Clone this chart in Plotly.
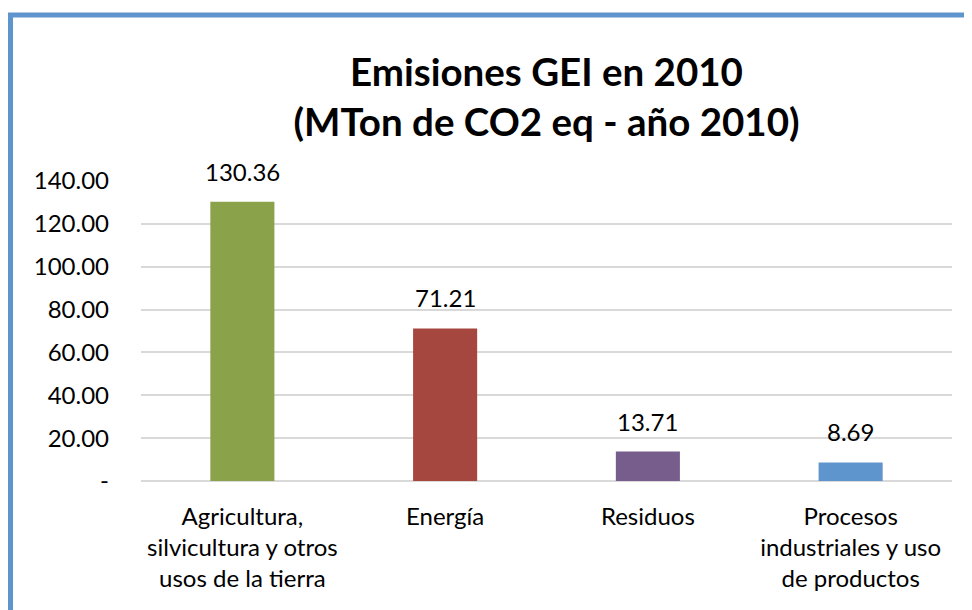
import plotly.graph_objects as go

categories = ["Agricultura,<br>silvicultura y otros<br>usos de la tierra",
              "Energía", "Residuos",
              "Procesos<br>industriales y uso<br>de productos"]
values = [130.36, 71.21, 13.71, 8.69]
colors = ["#8AA24A", "#A5463F", "#775D8C", "#5E95CC"]
tick_vals = [0, 20, 40, 60, 80, 100, 120, 140]
tick_text = ["-", "20.00", "40.00", "60.00", "80.00", "100.00", "120.00", "140.00"]
title_text = "Emisiones GEI en 2010<br>(MTon de CO2 eq - año 2010)"

FONT = "Lato"
OFF = 8  # page body margin
W, H = 972 - OFF, 610 - OFF
L, R, T, B = 141 - OFF, 20, 181 - OFF, 129

fig = go.Figure(go.Bar(x=categories, y=values, marker=dict(color=colors, line=dict(width=0)),
                       width=0.316, showlegend=False, hoverinfo="skip"))

for c, v in zip(categories, values):
    fig.add_annotation(x=c, y=v, text=f"{v:.2f}", showarrow=False, yanchor="bottom",
                       yshift=14, font=dict(family=FONT, size=24, color="#000000"))

pw = W - L - R
ph = H - T - B
x0 = (10.5 - OFF - L) / pw
y1 = 1 + (T - (15 - OFF)) / ph
fig.add_shape(type="rect", xref="paper", yref="paper", x0=x0, x1=1.2, y0=-1.0, y1=y1,
              line=dict(color="#5E95CC", width=5), fillcolor="rgba(0,0,0,0)", layer="above")

fig.update_layout(
    width=W, height=H,
    margin=dict(l=L, r=R, t=T, b=B),
    paper_bgcolor="white", plot_bgcolor="white",
    title=dict(text=title_text, x=(L + pw / 2) / W, xanchor="center",
               y=1 - (86 - OFF) / H, yanchor="middle", yref="container",
               font=dict(family=FONT, size=38.5, color="#000000", weight="bold")),
    font=dict(family=FONT, size=24, color="#000000"),
)
fig.update_yaxes(range=[0, 140], tickvals=tick_vals, ticktext=tick_text,
                 showgrid=True, gridcolor="#D9D9D9", gridwidth=1.5,
                 zeroline=True, zerolinecolor="#D9D9D9", zerolinewidth=1.5,
                 showline=False, ticks="", ticklabelstandoff=31,
                 tickfont=dict(family=FONT, size=24))
fig.update_xaxes(showline=False, ticks="", ticklabelstandoff=19,
                 tickfont=dict(family=FONT, size=24))

fig.write_html("out.html")
